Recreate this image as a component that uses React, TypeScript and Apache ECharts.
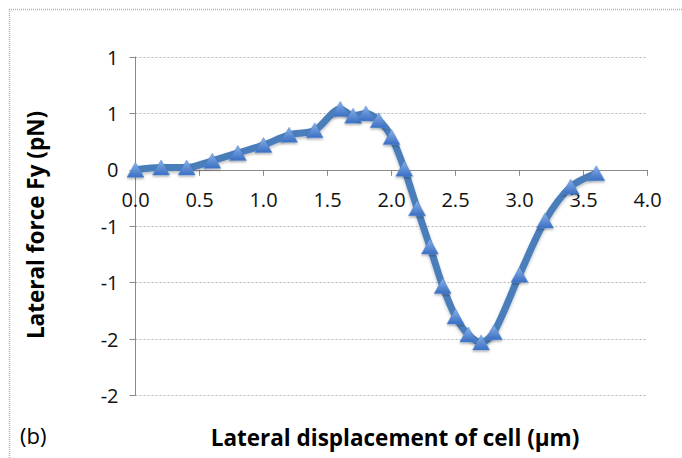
import React, { useEffect, useRef } from "react";
import * as echarts from "echarts";

// Lateral displacement of the cell (µm) and the lateral force Fy (pN)
const displacement = [0, 0.2, 0.4, 0.6, 0.8, 1.0, 1.2, 1.4, 1.6, 1.7, 1.8, 1.9, 2.0, 2.1, 2.2, 2.3, 2.4, 2.5, 2.6, 2.7, 2.8, 3.0, 3.2, 3.4, 3.6];
const forceFy = [0, 0.02, 0.02, 0.08, 0.15, 0.22, 0.31, 0.35, 0.54, 0.48, 0.5, 0.44, 0.29, 0.01, -0.34, -0.68, -1.03, -1.3, -1.46, -1.53, -1.44, -0.93, -0.45, -0.15, -0.03];

const xTitle = "Lateral displacement of cell (\u03bcm)";
const yTitle = "Lateral force Fy (pN)";
const panelTag = "(b)";

const FONT = "'Open Sans', 'Liberation Sans', sans-serif";

const Y_MIN = -2;
const Y_MAX = 1;
const GRID_TOP = 57;
const GRID_BOTTOM = 62.5;
const CHART_H = 458;

// Labels rounded to whole numbers, halves away from zero
const roundLabel = (v: number) => {
  const r = Math.sign(v) * Math.round(Math.abs(v));
  return r === 0 ? "0" : String(r);
};

export default function App() {
  const ref = useRef<HTMLDivElement>(null);

  useEffect(() => {
    if (!ref.current) return;
    const chart = echarts.init(ref.current, null, { renderer: "svg" });
    const points = displacement.map((x, i) => [x, forceFy[i]]);

    // lift the horizontal axis from the bottom edge up to y = 0
    const plotH = CHART_H - GRID_TOP - GRID_BOTTOM;
    const zeroLift = -(plotH * (0 - Y_MIN)) / (Y_MAX - Y_MIN);

    chart.setOption({
      animation: false,
      backgroundColor: "#ffffff",
      grid: { left: 135.5, right: 34.5, top: GRID_TOP, bottom: GRID_BOTTOM, containLabel: false },
      xAxis: {
        type: "value",
        min: 0,
        max: 4,
        interval: 0.5,
        position: "bottom",
        offset: zeroLift,
        axisLine: { show: true, onZero: false, lineStyle: { color: "#8a8a8a", width: 1 } },
        axisTick: { show: true, inside: false, length: 6, lineStyle: { color: "#8a8a8a" } },
        axisLabel: {
          margin: 20,
          color: "#111",
          fontFamily: FONT,
          fontSize: 20,
          formatter: (v: number) => v.toFixed(1),
        },
        splitLine: { show: false },
      },
      yAxis: {
        type: "value",
        min: Y_MIN,
        max: Y_MAX,
        interval: 0.5,
        axisLine: { show: true, onZero: false, lineStyle: { color: "#8a8a8a", width: 1 } },
        axisTick: { show: true, inside: false, length: 6, lineStyle: { color: "#8a8a8a" } },
        axisLabel: {
          margin: 17,
          color: "#111",
          fontFamily: FONT,
          fontSize: 20,
          formatter: roundLabel,
        },
        splitLine: { show: true, lineStyle: { color: "#b5b5b5", type: [2, 2], width: 1 } },
      },
      graphic: [
        {
          type: "line",
          shape: { x1: 9, y1: 9.5, x2: 682, y2: 9.5 },
          style: { stroke: "#b0b0b0", lineWidth: 1.5, lineDash: [1, 1] },
          silent: true,
        },
        {
          type: "line",
          shape: { x1: 9.5, y1: 9, x2: 9.5, y2: 458 },
          style: { stroke: "#b0b0b0", lineWidth: 1.5, lineDash: [1, 1] },
          silent: true,
        },
        {
          type: "text",
          x: 35,
          y: 225,
          rotation: Math.PI / 2,
          style: {
            text: yTitle,
            fontFamily: FONT,
            fontWeight: "bold",
            fontSize: 22.5,
            fill: "#000",
            align: "center",
            verticalAlign: "middle",
          },
        },
        {
          type: "text",
          x: 395,
          y: 437,
          style: {
            text: xTitle,
            fontFamily: FONT,
            fontWeight: "bold",
            fontSize: 22.5,
            fill: "#000",
            align: "center",
            verticalAlign: "middle",
          },
        },
        {
          type: "text",
          x: 20,
          y: 435,
          style: {
            text: panelTag,
            fontFamily: FONT,
            fontSize: 22,
            fill: "#000",
            align: "left",
            verticalAlign: "middle",
          },
        },
      ],
      series: [
        {
          type: "line",
          data: points,
          smooth: 0.3,
          symbol: "triangle",
          symbolSize: [17, 15],
          lineStyle: {
            color: "#4a7ebb",
            width: 7,
            shadowColor: "rgba(0,0,0,0.25)",
            shadowBlur: 3,
            shadowOffsetY: 2,
          },
          itemStyle: {
            color: new echarts.graphic.LinearGradient(0, 0, 0, 1, [
              { offset: 0, color: "#8ab2ea" },
              { offset: 1, color: "#3a6ec2" },
            ]),
            borderColor: "#5a8ad0",
            borderWidth: 0.5,
            shadowColor: "rgba(0,0,0,0.3)",
            shadowBlur: 2,
            shadowOffsetY: 1.5,
          },
          z: 3,
        },
      ],
    });

    return () => chart.dispose();
  }, []);

  return (
    <div
      ref={ref}
      style={{ position: "fixed", left: 0, top: 0, width: 682, height: 458 }}
    />
  );
}
